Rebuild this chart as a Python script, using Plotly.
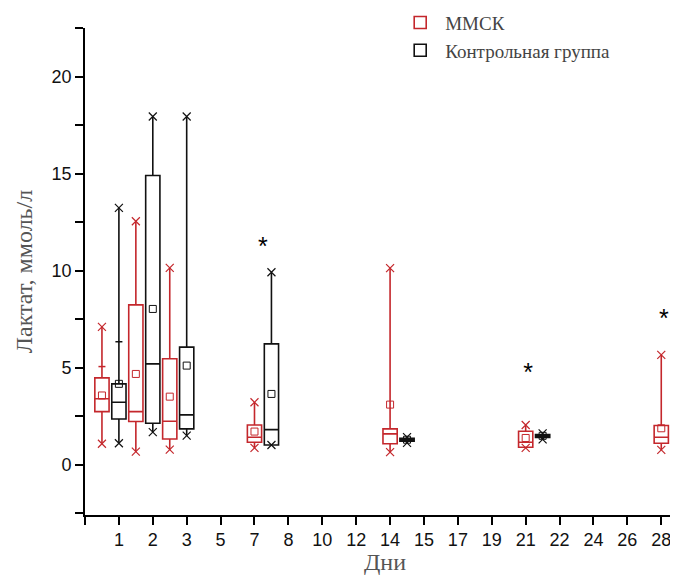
import plotly.graph_objects as go

# ---- data -------------------------------------------------------------
tick_days = ["1", "2", "3", "5", "7", "8", "10", "12", "14", "15", "17", "19",
             "21", "22", "24", "26", "28"]
box_days = ["1", "2", "3", "7", "14", "21", "28"]

red_name = "ММСК"
red_min = [1.07, 0.67, 0.77, 0.86, 0.64, 0.86, 0.76]
red_q1 = [2.73, 2.22, 1.32, 1.15, 1.07, 0.89, 1.10]
red_med = [3.39, 2.73, 2.23, 1.41, 1.58, 1.15, 1.41]
red_q3 = [4.47, 8.23, 5.45, 2.04, 1.84, 1.72, 2.01]
red_max = [7.10, 12.54, 10.14, 3.21, 10.12, 2.04, 5.65]
red_mean = [3.56, 4.67, 3.50, 1.70, 3.09, 1.37, 1.87]

black_name = "Контрольная группа"
black_min = [1.10, 1.67, 1.49, 1.01, 1.12, 1.30, 0.77]
black_q1 = [2.35, 2.13, 1.84, 1.01, 1.20, 1.40, 0.77]
black_med = [3.21, 5.19, 2.56, 1.80, 1.28, 1.48, 1.15]
black_q3 = [4.16, 14.90, 6.05, 6.22, 1.35, 1.55, 1.49]
black_max = [13.23, 17.94, 17.94, 9.91, 1.41, 1.61, 1.49]
black_mean = [4.16, 8.02, 5.10, 3.64, 1.28, 1.48, 1.20]

# extra percentile marks (day 1)
red_extra_day = ["1"]
red_extra_val = [5.05]
black_extra_day = ["1"]
black_extra_val = [6.33]

# significance asterisks (day, share of the way from red to black box, level)
star_day = ["7", "21", "28"]
star_share = [0.5, 0.14, 0.16]
star_val = [11.1, 4.65, 7.4]

# ---- positions derived from tick order ---------------------------------
def idx(d):
    return tick_days.index(d) + 1

early = {"1", "2", "3"}
red_x = [idx(d) - 0.5 if d in early else idx(d) for d in box_days]
black_x = [idx(d) if d in early else idx(d) + 0.5 for d in box_days]
red_map = dict(zip(box_days, red_x))
black_map = dict(zip(box_days, black_x))

RED = "#c4272c"
BLACK = "#111111"
BW = 0.42

fig = go.Figure()

for name, col, xs, mn, q1, md, q3, mx, mean, exd, exv in [
    (red_name, RED, red_x, red_min, red_q1, red_med, red_q3, red_max, red_mean,
     red_extra_day, red_extra_val),
    (black_name, BLACK, black_x, black_min, black_q1, black_med, black_q3,
     black_max, black_mean, black_extra_day, black_extra_val),
]:
    fig.add_trace(go.Box(
        name=name, x=xs, q1=q1, median=md, q3=q3, lowerfence=mn, upperfence=mx,
        width=BW, whiskerwidth=0, fillcolor="rgba(255,255,255,0)",
        line=dict(color=col, width=1.6), boxpoints=False, showlegend=True,
        hoverinfo="skip",
    ))
    fig.add_trace(go.Scatter(
        x=xs + xs, y=mn + mx, mode="markers", showlegend=False, hoverinfo="skip",
        marker=dict(symbol="x-thin", size=8, line=dict(color=col, width=1.2)),
    ))
    fig.add_trace(go.Scatter(
        x=xs, y=mean, mode="markers", showlegend=False, hoverinfo="skip",
        marker=dict(symbol="square-open", size=7, color=col,
                    line=dict(color=col, width=1)),
    ))
    m = red_map if col == RED else black_map
    fig.add_trace(go.Scatter(
        x=[m[d] for d in exd], y=exv, mode="markers", showlegend=False,
        hoverinfo="skip",
        marker=dict(symbol="line-ew", size=5, line=dict(color=col, width=1.5)),
    ))

fig.add_trace(go.Scatter(
    x=[red_map[d] + s * (black_map[d] - red_map[d])
       for d, s in zip(star_day, star_share)],
    y=star_val, mode="text", text=["*"] * len(star_day), showlegend=False,
    hoverinfo="skip", cliponaxis=False,
    textfont=dict(family="Liberation Sans", size=25, color="#000"),
))

axis_common = dict(
    showline=True, linecolor="#000", linewidth=1.6, ticks="outside",
    tickcolor="#000", tickwidth=1.6, ticklen=8, showgrid=False, zeroline=False,
    automargin=False,
    tickfont=dict(family="Liberation Sans", size=18, color="#111"),
)

# page body adds an 8px offset; right part runs past the window edge
fig.update_layout(
    width=677, height=567,
    margin=dict(l=77, r=0, t=20, b=60, autoexpand=False),
    paper_bgcolor="white", plot_bgcolor="white",
    boxmode="overlay",
    xaxis=dict(
        range=[0, 17.7], tickmode="array",
        tickvals=list(range(0, len(tick_days) + 1)),
        ticktext=[""] + tick_days,
        title=dict(text="Дни", standoff=11,
                   font=dict(family="Liberation Serif", size=24, color="#555")),
        **axis_common,
    ),
    yaxis=dict(
        range=[-2.6, 22.5], tickmode="array", tickvals=[0, 5, 10, 15, 20],
        minor=dict(tickvals=[-2.5, 2.5, 7.5, 12.5, 17.5, 22.5], ticks="outside",
                   ticklen=8, tickcolor="#000", tickwidth=1.6),
        title=dict(text="Лактат, ммоль/л", standoff=12,
                   font=dict(family="Liberation Serif", size=24, color="#555")),
        **axis_common,
    ),
    legend=dict(
        x=0.517, y=1.05, xanchor="left", yanchor="top",
        bgcolor="rgba(0,0,0,0)", tracegroupgap=0, itemwidth=40,
        font=dict(family="Liberation Serif", size=19, color="#444"),
    ),
)

fig.write_html("out.html")
